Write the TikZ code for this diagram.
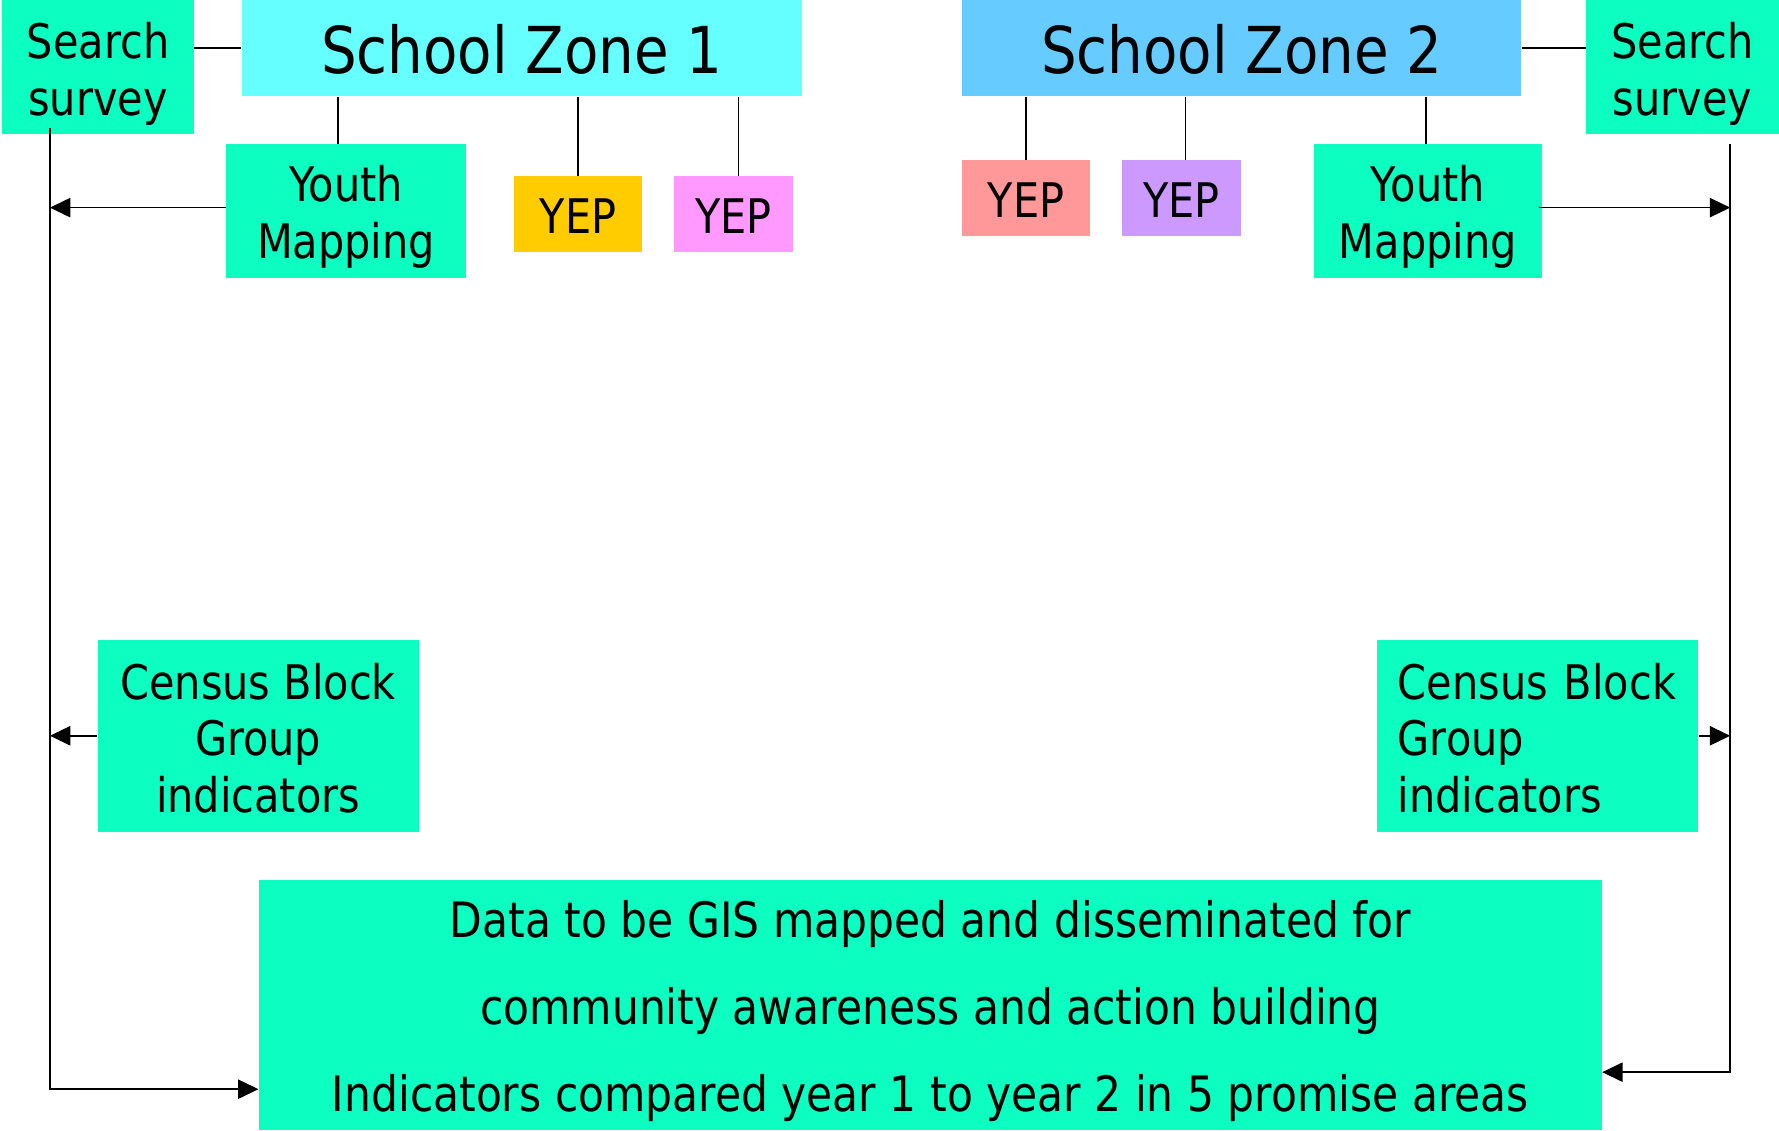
\documentclass[tikz,border=0pt]{standalone}
\usepackage{fontspec}
\setmainfont{DejaVu Sans}[FakeStretch=0.87]
\usetikzlibrary{arrows.meta}
\definecolor{grn}{RGB}{12,255,192}
\definecolor{szA}{RGB}{102,255,255}
\definecolor{szB}{RGB}{102,204,255}
\definecolor{yepY}{RGB}{255,204,0}
\definecolor{yepP}{RGB}{255,153,255}
\definecolor{yepS}{RGB}{255,153,153}
\definecolor{yepL}{RGB}{204,153,255}
\newcommand\sstrut[1]{\rule{0pt}{#1pt}}
\begin{document}
\begin{tikzpicture}[x=1pt,y=-1pt,
  base/.style={inner sep=0pt, align=center, font=\fontsize{42}{50}\selectfont},
  gbox/.style={base, fill=grn},
  zone/.style={base, font=\fontsize{57}{64}\selectfont},
  ln/.style={line width=1.5pt},
  arr/.style={ln, -{Triangle[length=18pt,width=17pt]}}]
\useasboundingbox (0,0) rectangle (1568,996);
% left side
\node[gbox, minimum width=169pt, minimum height=118pt] (ssL) at (86.5,59) {\sstrut{44}Search\\survey};
\node[zone, fill=szA, minimum width=494pt, minimum height=85pt] (sz1) at (460,42.5) {\sstrut{46}School Zone 1};
\node[gbox, minimum width=212pt, minimum height=118pt] (ym1) at (305,186) {\sstrut{42}Youth\\Mapping};
\node[base, fill=yepY, minimum width=113pt, minimum height=67pt] (yep1) at (509.5,188.5) {\sstrut{35}YEP};
\node[base, fill=yepP, minimum width=105pt, minimum height=67pt] (yep2) at (646.5,188.5) {\sstrut{35}YEP};
\node[gbox, minimum width=283pt, minimum height=169pt] (cb1) at (227.5,648.5) {\sstrut{36}Census Block\\Group\\indicators};
% right side
\node[zone, fill=szB, minimum width=493pt, minimum height=85pt] (sz2) at (1094.5,42.5) {\sstrut{46}School Zone 2};
\node[gbox, minimum width=170pt, minimum height=118pt] (ssR) at (1483,59) {\sstrut{44}Search\\survey};
\node[base, fill=yepS, minimum width=113pt, minimum height=67pt] (yep3) at (904.5,174.5) {\sstrut{35}YEP};
\node[base, fill=yepL, minimum width=105pt, minimum height=67pt] (yep4) at (1041.5,174.5) {\sstrut{35}YEP};
\node[gbox, minimum width=201pt, minimum height=118pt] (ym2) at (1258.5,186) {\sstrut{42}Youth\\Mapping};
\node[gbox, align=left, text width=247pt, inner xsep=18pt, minimum height=169pt] (cb2) at (1355.5,648.5) {\sstrut{36}Census Block\\Group\\indicators};
% bottom
\node[gbox, font=\fontsize{43}{77}\selectfont, minimum width=1184pt, minimum height=220pt] (data) at (820,886)
  {\sstrut{43}Data to be GIS mapped and disseminated for\\community awareness and action building\\Indicators compared year 1 to year 2 in 5 promise areas};
% corners
\coordinate (Lx) at (44,960);
\coordinate (Rx) at (1525,945);
% connectors top
\draw[ln] (sz1.west) -- (sz1.west -| ssL.east);
\draw[ln] (sz2.east) -- (sz2.east -| ssR.west);
\draw[ln] ([xshift=-7pt]ym1.north) -- ([xshift=-7pt]ym1.north |- sz1.south);
\draw[ln] (yep1.north) -- (yep1.north |- sz1.south);
\draw[ln] ([xshift=4.5pt]yep2.north) -- ([xshift=4.5pt]yep2.north |- sz1.south);
\draw[ln] (yep3.north) -- (yep3.north |- sz2.south);
\draw[ln] ([xshift=3.5pt]yep4.north) -- ([xshift=3.5pt]yep4.north |- sz2.south);
\draw[ln] ([xshift=-1.5pt]ym2.north) -- ([xshift=-1.5pt]ym2.north |- sz2.south);
% left trunk
\draw[arr] ([yshift=5pt]ssL.south -| Lx) -- (Lx) -- (Lx -| data.west);
\draw[arr] ([yshift=3pt]ym1.west) -- ([yshift=3pt]ym1.west -| Lx);
\draw[arr] (cb1.west) -- (cb1.west -| Lx);
% right trunk
\draw[arr] ([yshift=-9pt]ssR.south -| Rx) -- (Rx) -- (Rx -| data.east);
\draw[arr] ([yshift=3pt,xshift=-3pt]ym2.east) -- ([yshift=3pt]ym2.east -| Rx);
\draw[arr] (cb2.east) -- (cb2.east -| Rx);
\end{tikzpicture}
\end{document}
